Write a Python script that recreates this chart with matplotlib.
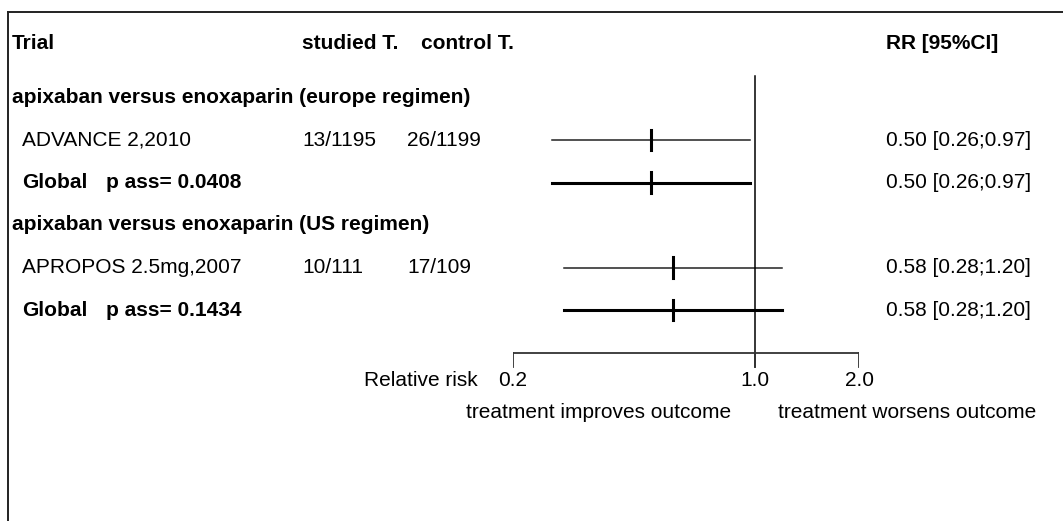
import numpy as np
import matplotlib
matplotlib.use("Agg")
import matplotlib.pyplot as plt
from matplotlib.lines import Line2D
from matplotlib.transforms import blended_transform_factory

plt.rcParams['font.family'] = ['Liberation Sans', 'DejaVu Sans']

# forest plot data
groups    = ["apixaban versus enoxaparin (europe regimen)",
             "apixaban versus enoxaparin (US regimen)"]
trials    = ["ADVANCE 2,2010", "APROPOS 2.5mg,2007"]
studied   = ["13/1195", "10/111"]
control   = ["26/1199", "17/109"]
rr        = [0.50, 0.58]
ci_low    = [0.26, 0.28]
ci_high   = [0.97, 1.20]
glob_rr   = [0.50, 0.58]
glob_low  = [0.26, 0.28]
glob_high = [0.97, 1.20]
p_ass     = ["0.0408", "0.1434"]
ticks     = [0.2, 1.0, 2.0]
tick_lab  = ["0.2", "1.0", "2.0"]

W, H = 1063, 521
FS = 15

fig = plt.figure(figsize=(W/100, H/100), dpi=100)
# the forest axis spans the x range of the RR scale, rows in y
ax = fig.add_axes([513/W, 0, (859-513)/W, 1])
ax.set_xscale('log')
ax.set_xlim(ticks[0], ticks[-1])
ax.set_ylim((H-97.5)/42.5, -97.5/42.5)
ax.axis('off')

# columns in figure pixels, rows in data units
tr = blended_transform_factory(fig.transFigure, ax.transData)
def col(px):
    return px / W

def txt(px, row, s, bold=False, **kw):
    ax.text(col(px), row, s, transform=tr, fontsize=FS, va='center',
            fontweight='bold' if bold else 'normal', **kw)

# header
hdr = -1.28
txt(12, hdr, "Trial", bold=True)
txt(302, hdr, "studied T.", bold=True)
txt(421, hdr, "control T.", bold=True)
txt(886, hdr, "RR [95%CI]", bold=True)

row = 0
for i in range(len(groups)):
    txt(12, row, groups[i], bold=True)
    row += 1
    # single trial
    txt(22, row, trials[i])
    txt(302, row, studied[i])
    txt(407, row, control[i])
    ax.plot([ci_low[i], ci_high[i]], [row, row], color='#222222', lw=1.1)
    ax.plot([rr[i], rr[i]], [row-0.245, row+0.245], color='black', lw=2.2)
    txt(886, row, f"{rr[i]:.2f} [{ci_low[i]:.2f};{ci_high[i]:.2f}]")
    row += 1
    # pooled estimate
    txt(22, row, "Global", bold=True)
    txt(106, row, "p ass= " + p_ass[i], bold=True)
    ax.plot([glob_low[i], glob_high[i]], [row, row], color='black', lw=2.2)
    ax.plot([glob_rr[i], glob_rr[i]], [row-0.245, row+0.245], color='black', lw=2.2)
    txt(886, row, f"{glob_rr[i]:.2f} [{glob_low[i]:.2f};{glob_high[i]:.2f}]")
    row += 1

# reference line at RR = 1
axis_row = row
tick_end = axis_row + 0.35
ax.plot([1.0, 1.0], [-0.5, tick_end], color='black', lw=1.1)

# scale axis
ax.plot([ticks[0], ticks[-1]], [axis_row, axis_row], color='#333333', lw=1.3)
for t, lab in zip(ticks, tick_lab):
    ax.plot([t, t], [axis_row, tick_end], color='#333333', lw=1.3)
    ax.text(t, axis_row + 0.65, lab, ha='center', va='center', fontsize=FS)
txt(478, axis_row + 0.65, "Relative risk", ha='right')
txt(466, axis_row + 1.42, "treatment improves outcome")
txt(778, axis_row + 1.42, "treatment worsens outcome")

# frame: top and left border only
fig.add_artist(Line2D([8/W, 1], [1-12/H, 1-12/H], transform=fig.transFigure,
                      color='#222222', lw=1.4))
fig.add_artist(Line2D([8/W, 8/W], [0, 1-12/H], transform=fig.transFigure,
                      color='#222222', lw=1.4))

fig.savefig("out.png", dpi=100, facecolor='white')
